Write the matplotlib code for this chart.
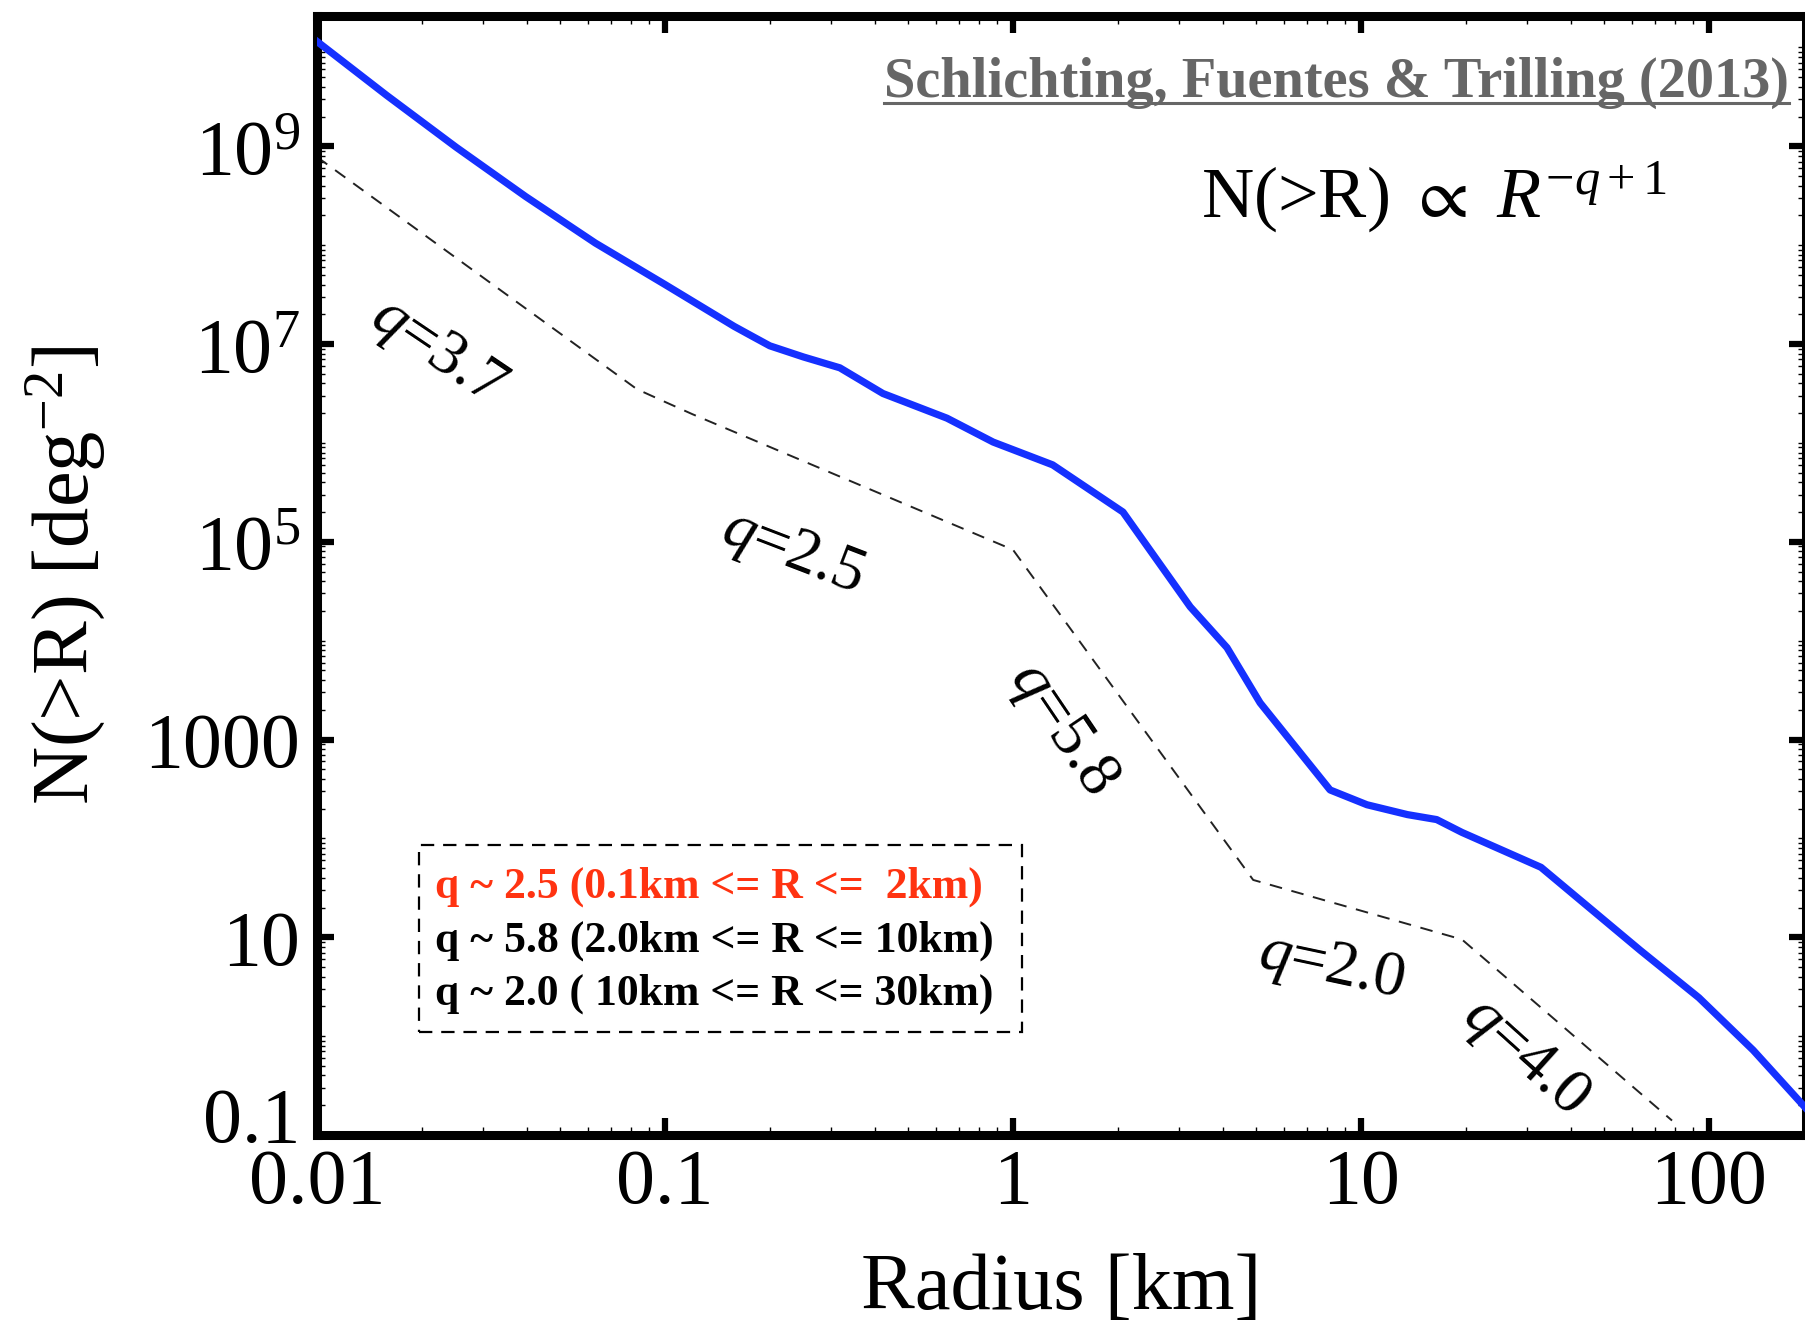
import matplotlib
matplotlib.use('Agg')
import matplotlib.pyplot as plt
from matplotlib.ticker import FixedLocator, FixedFormatter, LogLocator, NullFormatter
from matplotlib.patches import Rectangle
from matplotlib.lines import Line2D
import matplotlib.transforms as mtransforms
import numpy as np

plt.rcParams['font.family'] = 'Liberation Serif'
plt.rcParams['mathtext.fontset'] = 'custom'
plt.rcParams['mathtext.rm'] = 'Liberation Serif'
plt.rcParams['mathtext.it'] = 'Liberation Serif:italic'
plt.rcParams['mathtext.bf'] = 'Liberation Serif:bold'
plt.rcParams['mathtext.fallback'] = 'stix'

# cumulative size distribution N(>R)
radius = [0.01, 0.01585, 0.0251, 0.0398, 0.0631, 0.1, 0.158, 0.178, 0.20, 0.25,
          0.318, 0.423, 0.646, 0.877, 1.30, 2.07, 3.23, 4.12, 5.13, 8.15,
          10.4, 13.6, 16.5, 19.5, 32.9, 63.4, 93.5, 134, 190]
n_cum = [1.15e10, 3.28e9, 9.8e8, 3.1e8, 1.05e8, 4.0e7, 1.51e7, 1.2e7, 9.6e6, 7.4e6,
         5.75e6, 3.16e6, 1.78e6, 1.02e6, 6.0e5, 2.0e5, 2.2e4, 8.5e3, 2.35e3, 309,
         219, 174, 155, 115, 51, 7.4, 2.45, 0.72, 0.186]

# broken power-law approximation (dashed)
fit_radius = [0.01, 0.083, 0.1, 0.12, 1.0, 4.9, 19.5, 78.3]
fit_n = [7.8e8, 3.5e6, 2.6e6, 1.95e6, 8.3e4, 38, 9.5, 0.14]

# slope labels along the dashed line
q_values = ['3.7', '2.5', '5.8', '2.0', '4.0']
q_x = [0.0222, 0.232, 1.38, 8.2, 29.5]
q_y = [8.3e6, 7.6e4, 1260, 4.9, 0.62]
q_rot = [-34, -21, -56, -12, -42]

# axis ticks
xticks = [0.01, 0.1, 1, 10, 100]
xtick_labels = ['0.01', '0.1', '1', '10', '100']
yticks = [0.1, 10, 1000, 1e5, 1e7, 1e9]
ytick_labels = ['0.1', '10', '1000', r'$10^5$', r'$10^7$', r'$10^9$']

legend_lines = ['q ~ 2.5 (0.1km <= R <=  2km)',
                'q ~ 5.8 (2.0km <= R <= 10km)',
                'q ~ 2.0 ( 10km <= R <= 30km)']
legend_colors = ['#ff3311', 'black', 'black']

W, H = 1806, 1328
fig = plt.figure(figsize=(W / 100, H / 100), dpi=100)
ax = fig.add_axes([317 / W, 1 - 1135 / H, (W - 317) / W, 1119 / H])

ax.plot(fit_radius, fit_n, color='#222222', lw=1.4, dashes=(6.5, 5), zorder=2)
ax.plot(radius, n_cum, color='#1530ff', lw=5.2, solid_joinstyle='round', zorder=3)

ax.set_xscale('log')
ax.set_yscale('log')
ax.set_xlim(0.01, 190)
ax.set_ylim(0.1, 2.08e10)

ax.xaxis.set_major_locator(FixedLocator(xticks))
ax.xaxis.set_major_formatter(FixedFormatter(xtick_labels))
ax.xaxis.set_minor_locator(LogLocator(base=10, subs=np.arange(2, 10), numticks=100))
ax.xaxis.set_minor_formatter(NullFormatter())
ax.yaxis.set_major_locator(FixedLocator(yticks))
ax.yaxis.set_major_formatter(FixedFormatter(ytick_labels))
ax.yaxis.set_minor_locator(LogLocator(base=10, subs=np.arange(1, 10), numticks=100))
ax.yaxis.set_minor_formatter(NullFormatter())

for s in ax.spines.values():
    s.set_linewidth(6.5)
ax.tick_params(which='both', direction='in', top=True, right=True)
ax.tick_params(which='major', length=12, width=4.5, labelsize=56)
ax.tick_params(which='minor', length=6, width=1.0)
ax.tick_params(axis='y', which='major', pad=12)
ax.tick_params(axis='x', which='major', pad=10)

ax.set_xlabel('Radius [km]', fontsize=58, va='center')
ax.xaxis.set_label_coords(0.5, -0.1385)
ax.set_ylabel(r'N(>R) [deg$^{-2}$]', fontsize=58, va='center')
ax.yaxis.set_label_coords(-0.1686, 0.5)

for qv, x, y, r in zip(q_values, q_x, q_y, q_rot):
    ax.text(x, y, r'$q$=' + qv, fontsize=46, rotation=r, rotation_mode='anchor',
            ha='center', va='center', zorder=4)

# formula and citation
fig.text(1434 / W, 1 - 217 / H, r'N(>R) $\propto$ $R^{-q+1}$', fontsize=52,
         ha='center', va='baseline')
title = fig.text(1789 / W, 1 - 97 / H, 'Schlichting, Fuentes & Trilling (2013)',
                 fontsize=40.6, weight='bold', color='#666666', ha='right', va='baseline')

# dashed box with the fitted slopes
fig.patches.append(Rectangle((419 / W, 1 - 1032 / H), 603 / W, 187 / H,
                             transform=fig.transFigure, fill=False, ec='black',
                             lw=1.6, linestyle=(0, (6, 4))))
for i, (line, c) in enumerate(zip(legend_lines, legend_colors)):
    fig.text(435 / W, 1 - (898 + 53.5 * i) / H, line, fontsize=31.5, weight='bold',
             color=c, ha='left', va='baseline')

# lift the lowest y tick label off the x tick labels
fig.canvas.draw()
lab = ax.yaxis.get_major_ticks()[0].label1
lab.set_transform(lab.get_transform() + mtransforms.ScaledTranslation(0, 0.2, fig.dpi_scale_trans))

# underline the citation
bb = title.get_window_extent().transformed(fig.transFigure.inverted())
fig.lines.append(Line2D([bb.x0, bb.x1], [1 - 103 / H] * 2, transform=fig.transFigure,
                        color='#666666', lw=2.2))

fig.savefig('out.png', dpi=100)
